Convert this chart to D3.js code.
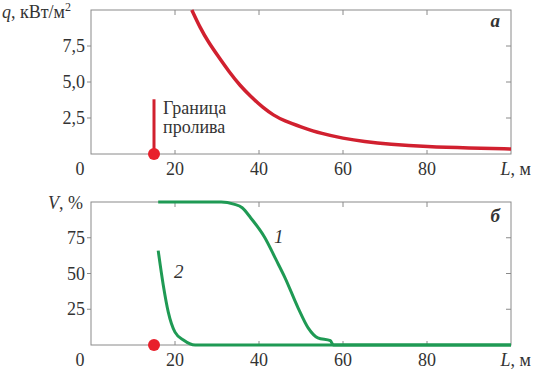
<!DOCTYPE html>
<html>
<head>
<meta charset="utf-8">
<script src="https://cdn.jsdelivr.net/npm/d3@7"></script>
<style>
  svg text, svg tspan { font-family: "Liberation Serif", "Times New Roman", Tinos, serif !important; }
</style>
</head>
<body style="margin:0">
<div id="chart"></div>
<script>
// panel a: heat flux q (kW/m2) vs distance L (m)
const fluxL = [24, 26, 28, 30, 33, 35.5, 38, 41, 43.4, 46, 50, 55, 60, 65, 71, 80, 90, 100];
const fluxQ = [10, 8.75, 7.75, 6.9, 5.65, 4.75, 4.0, 3.2, 2.7, 2.3, 1.88, 1.4, 1.09, 0.86, 0.67, 0.5, 0.41, 0.35];

// panel б: probability V (%) vs L, curves 1 and 2
const v1L = [16, 31, 34, 36, 38, 41.4, 44, 46.2, 49.3, 51.7, 54, 57, 57.7, 100];
const v1V = [100, 100, 98.5, 96, 89, 75, 60, 47, 26, 12, 5, 3, 0, 0];
const v2L = [16, 17.2, 18.4, 20, 22, 24.8, 100];
const v2V = [66, 42, 23, 9, 3.5, 0, 0];

const xTicks = [20, 40, 60, 80];
const qTicks = [2.5, 5.0, 7.5];
const vTicks = [25, 50, 75];
const spillL = 15;      // граница пролива
const spillTop = 3.8;

const red = "#d1202f", green = "#1f9a54", frame = "#8a8a8a", ink = "#333";
const FONT = "Liberation Serif";

const svg = d3.select("#chart").append("svg")
    .attr("width", 535).attr("height", 381);

const x = d3.scaleLinear().domain([0, 100]).range([91, 511]);
const yq = d3.scaleLinear().domain([0, 10]).range([154, 10]);
const yv = d3.scaleLinear().domain([0, 100]).range([345, 202]);

// font set as attribute and as important inline style
function label(g, px, py, size) {
    return g.append("text").attr("x", px).attr("y", py)
        .attr("font-family", FONT).attr("font-size", size)
        .style("font-family", FONT, "important")
        .style("font-size", size + "px", "important")
        .attr("fill", ink);
}

function panel(y, yTicks, fmt) {
    const g = svg.append("g");
    const [y0, y1] = y.range();
    g.append("rect")
        .attr("x", x(0)).attr("y", y1)
        .attr("width", x(100) - x(0)).attr("height", y0 - y1)
        .attr("fill", "none").attr("stroke", frame).attr("stroke-width", 1);
    // ticks: top and bottom inward
    xTicks.forEach(t => {
        g.append("line").attr("x1", x(t)).attr("x2", x(t)).attr("y1", y1).attr("y2", y1 + 5)
            .attr("stroke", frame);
        g.append("line").attr("x1", x(t)).attr("x2", x(t)).attr("y1", y0).attr("y2", y0 - 4)
            .attr("stroke", frame);
        label(g, x(t), y0 + 21, 18).attr("text-anchor", "middle").text(t);
    });
    label(g, 80, y0 + 21, 18).attr("text-anchor", "middle").text("0");
    yTicks.forEach(t => {
        g.append("line").attr("x1", x(0) - 4).attr("x2", x(0)).attr("y1", y(t)).attr("y2", y(t))
            .attr("stroke", frame);
        g.append("line").attr("x1", x(100) - 5).attr("x2", x(100)).attr("y1", y(t)).attr("y2", y(t))
            .attr("stroke", frame);
        label(g, 85, y(t) + 6, 18).attr("text-anchor", "end").text(fmt(t));
    });
    const lt = label(g, 531, y0 + 21, 18).attr("text-anchor", "end");
    lt.append("tspan").style("font-style", "italic").text("L");
    lt.append("tspan").text(", м");
    return g;
}

const comma = d => d3.format(".1f")(d).replace(".", ",");
panel(yq, qTicks, comma);
panel(yv, vTicks, d => d);

// axis titles
const qt = label(svg, 2, 18, 18);
qt.append("tspan").style("font-style", "italic").text("q");
qt.append("tspan").text(", кВт/м");
qt.append("tspan").style("font-size", "12px", "important").attr("dy", -7).text("2");

const vt = label(svg, 83, 209, 18).attr("text-anchor", "end");
vt.append("tspan").style("font-style", "italic").text("V");
vt.append("tspan").text(", %");

label(svg, 500, 27, 19).attr("text-anchor", "end")
    .style("font-weight", "bold").style("font-style", "italic").text("а");
label(svg, 500, 222, 19).attr("text-anchor", "end")
    .style("font-weight", "bold").style("font-style", "italic").text("б");

// red curve
const lineQ = d3.line().x(d => x(d[0])).y(d => yq(d[1])).curve(d3.curveBasis);
svg.append("path").datum(d3.zip(fluxL, fluxQ))
    .attr("d", lineQ).attr("fill", "none").attr("stroke", red).attr("stroke-width", 3.5);

// spill boundary
svg.append("line").attr("x1", x(spillL)).attr("x2", x(spillL))
    .attr("y1", yq(spillTop)).attr("y2", yq(0))
    .attr("stroke", red).attr("stroke-width", 3);
svg.append("circle").attr("cx", x(spillL)).attr("cy", yq(0)).attr("r", 6).attr("fill", "#e8202c");
const gr = label(svg, 163, 114, 18);
gr.append("tspan").text("Граница");
gr.append("tspan").attr("x", 163).attr("dy", 19).text("пролива");

// green curves
const lineV = d3.line().x(d => x(d[0])).y(d => yv(d[1])).curve(d3.curveMonotoneX);
svg.append("path").datum(d3.zip(v2L, v2V))
    .attr("d", lineV).attr("fill", "none").attr("stroke", green).attr("stroke-width", 3);
svg.append("path").datum(d3.zip(v1L, v1V))
    .attr("d", lineV).attr("fill", "none").attr("stroke", green).attr("stroke-width", 3);
svg.append("circle").attr("cx", x(spillL)).attr("cy", yv(0)).attr("r", 6).attr("fill", "#e8202c");

label(svg, 274, 243, 19).style("font-style", "italic").text("1");
label(svg, 174, 278, 19).style("font-style", "italic").text("2");
</script>
</body>
</html>
